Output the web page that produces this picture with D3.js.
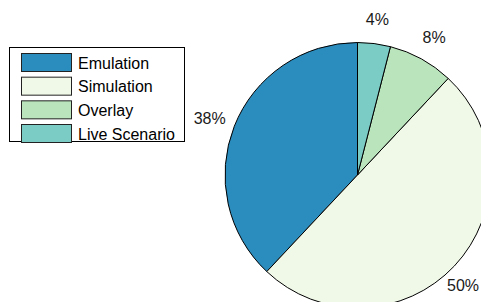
<!DOCTYPE html>
<html>
<head>
<meta charset="utf-8">
<script src="https://cdn.jsdelivr.net/npm/d3@7"></script>
<style>
  html, body { margin: 0; padding: 0; background: #fff; }
  svg { display: block; font-family: "Liberation Sans", Arial, sans-serif; }
</style>
</head>
<body>
<div id="chart"></div>
<script>
const categories = ['Emulation', 'Simulation', 'Overlay', 'Live Scenario'];
const values = [38, 50, 8, 4];
const colors = ['#2b8cbe', '#f0f9e8', '#bae4bc', '#7bccc4'];

const width = 481;
const height = 302;
const cx = 357.5;
const cy = 175;
const radius = 132.5;

const svg = d3.select('#chart')
  .append('svg')
  .attr('width', width)
  .attr('height', height);

const g = svg.append('g')
  .attr('transform', `translate(${cx}, ${cy})`);

// MATLAB-style pie: first slice starts at the top and runs counterclockwise
const pie = d3.pie()
  .sort(null)
  .startAngle(0)
  .endAngle(-2 * Math.PI)
  .value(d => d);

const arcs = pie(values);

const arc = d3.arc()
  .innerRadius(0)
  .outerRadius(radius);

const labelArc = d3.arc()
  .innerRadius(radius * 1.2)
  .outerRadius(radius * 1.2);

g.selectAll('path.slice')
  .data(arcs)
  .enter()
  .append('path')
  .attr('class', 'slice')
  .attr('d', arc)
  .attr('fill', (d, i) => colors[i])
  .attr('stroke', '#000')
  .attr('stroke-width', 1)
  .attr('stroke-linejoin', 'round');

const total = d3.sum(values);
// keep labels inside the window (the 50% one would run past the right edge)
const maxX = width - cx - 18;
g.selectAll('text.pct')
  .data(arcs)
  .enter()
  .append('text')
  .attr('class', 'pct')
  .attr('transform', d => {
    const [x, y] = labelArc.centroid(d);
    return `translate(${Math.min(x, maxX)}, ${y + 2})`;
  })
  .attr('text-anchor', 'middle')
  .attr('dominant-baseline', 'central')
  .style('font-size', '16px')
  .attr('fill', '#1a1a1a')
  .text(d => `${Math.round(d.value / total * 100)}%`);

// legend
const legend = svg.append('g')
  .attr('transform', 'translate(9.5, 47.5)');

legend.append('rect')
  .attr('width', 175)
  .attr('height', 94)
  .attr('fill', '#fff')
  .attr('stroke', '#000')
  .attr('stroke-width', 1);

const rowY = d3.scalePoint()
  .domain(categories)
  .range([6, 77]);

const item = legend.selectAll('g.item')
  .data(categories)
  .enter()
  .append('g')
  .attr('class', 'item')
  .attr('transform', d => `translate(0, ${rowY(d)})`);

item.append('rect')
  .attr('x', 12)
  .attr('y', 0)
  .attr('width', 50)
  .attr('height', 18)
  .attr('fill', (d, i) => colors[i])
  .attr('stroke', '#222')
  .attr('stroke-width', 1);

item.append('text')
  .attr('x', 68.5)
  .attr('y', 9.5)
  .attr('dominant-baseline', 'central')
  .style('font-size', '16px')
  .attr('fill', '#000')
  .text(d => d);
</script>
</body>
</html>
